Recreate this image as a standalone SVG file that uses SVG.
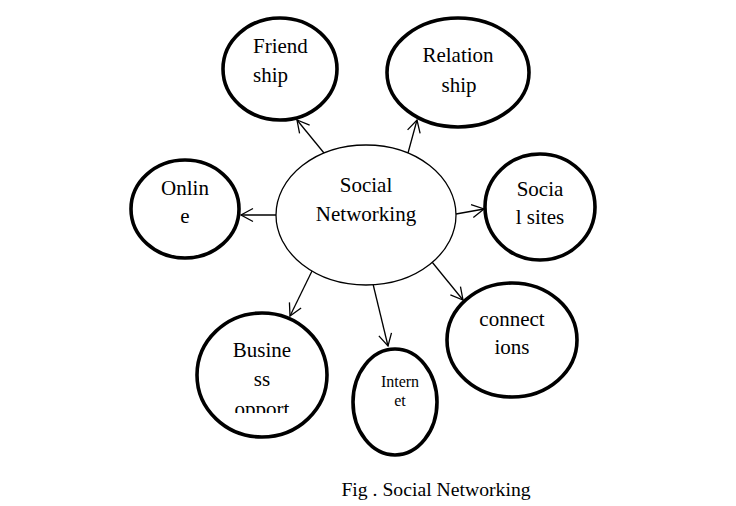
<svg xmlns="http://www.w3.org/2000/svg" width="736" height="506" viewBox="0 0 736 506">
<style>
.node{fill:#fff;stroke:#000;stroke-width:3.6}
.center{fill:#fff;stroke:#000;stroke-width:1.3}
.t{font-family:"Liberation Serif","Times New Roman",serif;font-size:21px;fill:#000;text-anchor:middle}
.conn line{stroke:#000;stroke-width:1.3;marker-end:url(#arr)}
</style>
<defs>
<marker id="arr" markerUnits="userSpaceOnUse" markerWidth="16" markerHeight="16" refX="13" refY="7" orient="auto" viewBox="0 0 16 14">
<path d="M1,0.5 L13,7 L1,13.5" fill="none" stroke="#000" stroke-width="1.3"/>
</marker>
<clipPath id="bclip"><rect x="190" y="300" width="150" height="113"/></clipPath>
</defs>
<rect width="736" height="506" fill="#fff"/>
<g class="conn" id="connectors">
<line x1="324" y1="153" x2="297" y2="120"/>
<line x1="408" y1="153" x2="417" y2="120"/>
<line x1="276" y1="215" x2="241" y2="215"/>
<line x1="456" y1="214" x2="484" y2="209"/>
<line x1="312" y1="271" x2="290" y2="316"/>
<line x1="373" y1="284" x2="388" y2="346"/>
<line x1="432" y1="262" x2="463" y2="300"/>
</g>
<g id="social-networking">
<ellipse class="center" cx="366" cy="215" rx="90" ry="70"/>
<text class="t" x="366" y="192">Social</text>
<text class="t" x="366" y="221">Networking</text>
</g>
<g id="friendship">
<ellipse class="node" cx="280" cy="69" rx="57" ry="51"/>
<text class="t" x="253" y="53" style="text-anchor:start">Friend</text>
<text class="t" x="253" y="82" style="text-anchor:start">ship</text>
</g>
<g id="relationship">
<ellipse class="node" cx="458" cy="72.5" rx="71" ry="54.5"/>
<text class="t" x="458" y="62">Relation</text>
<text class="t" x="459" y="92">ship</text>
</g>
<g id="online">
<ellipse class="node" cx="185" cy="209" rx="54" ry="49"/>
<text class="t" x="185" y="195">Onlin</text>
<text class="t" x="185" y="223">e</text>
</g>
<g id="social-sites">
<ellipse class="node" cx="540" cy="207" rx="55" ry="53"/>
<text class="t" x="540" y="196">Socia</text>
<text class="t" x="540" y="224">l sites</text>
</g>
<g id="business">
<ellipse class="node" cx="262" cy="375" rx="65" ry="62"/>
<g clip-path="url(#bclip)">
<text class="t" x="262" y="357">Busine</text>
<text class="t" x="262" y="386">ss</text>
<text class="t" x="262" y="416">opport</text>
</g>
</g>
<g id="internet">
<ellipse class="node" cx="395" cy="402" rx="42" ry="53"/>
<text class="t" x="400" y="387" style="font-size:16px">Intern</text>
<text class="t" x="400" y="406" style="font-size:16px">et</text>
</g>
<g id="connections">
<ellipse class="node" cx="512" cy="340" rx="65" ry="57"/>
<text class="t" x="512" y="326">connect</text>
<text class="t" x="512" y="354">ions</text>
</g>
<text class="t" x="436" y="496" style="font-size:19.7px">Fig . Social Networking</text>
</svg>
